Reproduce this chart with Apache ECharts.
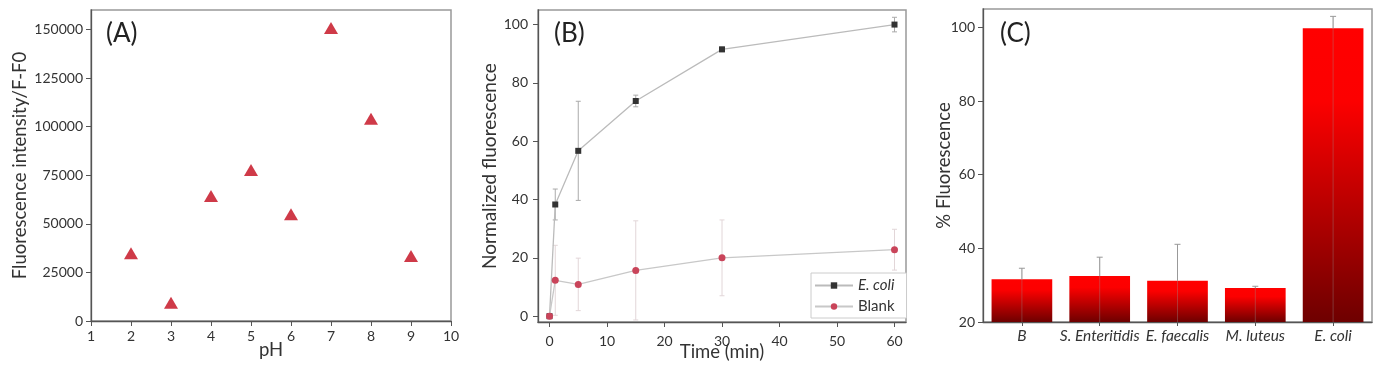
<!DOCTYPE html>
<html>
<head>
<meta charset="utf-8">
<script src="https://cdn.jsdelivr.net/npm/echarts@6/dist/echarts.min.js"></script>
<style>html,body{margin:0;padding:0;background:#fff}#c{width:1383px;height:367px}</style>
</head>
<body>
<div id="c"></div>
<script>
// Panel A
var phValues = [2, 3, 4, 5, 6, 7, 8, 9];
var phIntensity = [34800, 9400, 64300, 77650, 54900, 150800, 104000, 33400];
var phTicks = [1, 2, 3, 4, 5, 6, 7, 8, 9, 10];
var intensityTicks = [0, 25000, 50000, 75000, 100000, 125000, 150000];
// Panel B
var timeMin = [0, 1, 5, 15, 30, 60];
var ecoliMean = [0, 38.3, 56.7, 73.8, 91.5, 100];
var ecoliErr = [0, 5.3, 17, 2, 0.8, 2.5];
var blankMean = [0, 12.3, 10.9, 15.7, 20, 22.8];
var blankErr = [0, 12, 9, 17, 13, 7];
var timeTicks = [0, 10, 20, 30, 40, 50, 60];
var normTicks = [0, 20, 40, 60, 80, 100];
// Panel C
var bacteria = ['B', 'S. Enteritidis', 'E. faecalis', 'M. luteus', 'E. coli'];
var fluorMean = [31.6, 32.5, 31.2, 29.2, 99.8];
var fluorErr = [3.0, 5.1, 9.9, 0.5, 3.2];
var percentTicks = [20, 40, 60, 80, 100];

var FONT = 'Lato';
var TXT = '#333';
function plain(v) { return String(v); }
function errData(xs, m, e) {
  return xs.map(function (x, i) { return [x, m[i] - e[i], m[i] + e[i]]; });
}
function errRender(color, cap) {
  return function (params, api) {
    var x = api.value(0);
    var hi = api.coord([x, api.value(2)]);
    var lo = api.coord([x, api.value(1)]);
    var st = { stroke: color, lineWidth: 1 };
    return {
      type: 'group',
      children: [
        { type: 'line', shape: { x1: hi[0], y1: hi[1], x2: lo[0], y2: lo[1] }, style: st },
        { type: 'line', shape: { x1: hi[0] - cap, y1: hi[1], x2: hi[0] + cap, y2: hi[1] }, style: st },
        { type: 'line', shape: { x1: lo[0] - cap, y1: lo[1], x2: lo[0] + cap, y2: lo[1] }, style: st }
      ]
    };
  };
}
function valAxis(extra) {
  var base = {
    type: 'value',
    axisLine: { show: true, onZero: false, lineStyle: { color: '#555', width: 1.3 } },
    axisTick: { show: true, inside: false, length: 5, lineStyle: { color: '#555' } },
    axisLabel: { color: TXT, fontFamily: FONT, fontSize: 14, formatter: plain },
    splitLine: { show: false },
    nameLocation: 'middle',
    nameMoveOverlap: false,
    nameTextStyle: { color: TXT, fontFamily: FONT, fontSize: 18.5 }
  };
  for (var k in extra) {
    if (typeof extra[k] === 'object' && base[k] && !Array.isArray(extra[k])) {
      for (var j in extra[k]) base[k][j] = extra[k][j];
    } else base[k] = extra[k];
  }
  return base;
}

var gridStyle = { show: true, borderColor: '#999', borderWidth: 1.5, backgroundColor: 'transparent', containLabel: false, outerBoundsMode: 'none' };
var option = {
  backgroundColor: '#fff',
  animation: false,
  grid: [
    Object.assign({ left: 91, top: 10, width: 360, height: 311 }, gridStyle),
    Object.assign({ left: 538, top: 10, width: 368, height: 312 }, gridStyle),
    Object.assign({ left: 983, top: 9, width: 389, height: 313 }, gridStyle)
  ],
  graphic: [
    { type: 'text', left: 106, top: 21, style: { text: '(A)', font: '26px Lato', fill: '#222' } },
    { type: 'text', left: 554, top: 21, style: { text: '(B)', font: '26px Lato', fill: '#222' } },
    { type: 'text', left: 1000, top: 21, style: { text: '(C)', font: '26px Lato', fill: '#222' } }
  ],
  legend: {
    show: true,
    left: 811, top: 273,
    orient: 'vertical',
    data: ['E. coli', 'Blank'],
    itemWidth: 38, itemHeight: 8, itemGap: 6,
    padding: [5, 12, 4, 3],
    borderColor: '#ccc', borderWidth: 1, backgroundColor: '#fff',
    textStyle: { color: TXT, fontFamily: FONT, fontSize: 15, rich: { i: { fontStyle: 'italic', fontFamily: FONT, fontSize: 15, color: TXT } } },
    formatter: function (n) { return n === 'E. coli' ? '{i|E. coli}' : n; }
  },
  xAxis: [
    valAxis({ gridIndex: 0, min: 1, max: 10, name: 'pH', nameGap: 20,
      axisLabel: { customValues: phTicks, margin: 8 }, axisTick: { customValues: phTicks } }),
    valAxis({ gridIndex: 1, min: -2, max: 62, name: 'Time (min)', nameGap: 21,
      axisLabel: { customValues: timeTicks, margin: 12 }, axisTick: { customValues: timeTicks } }),
    {
      type: 'category', gridIndex: 2, data: bacteria,
      axisLine: { show: true, lineStyle: { color: '#555', width: 1.3 } },
      axisTick: { show: true, alignWithLabel: true, length: 4, lineStyle: { color: '#555' } },
      axisLabel: { color: TXT, fontFamily: FONT, fontSize: 15.5, fontStyle: 'italic', margin: 6, interval: 0 }
    }
  ],
  yAxis: [
    valAxis({ gridIndex: 0, min: 0, max: 160000, name: 'Fluorescence intensity/F-F0', nameGap: 61,
      axisLabel: { customValues: intensityTicks, margin: 8 }, axisTick: { customValues: intensityTicks } }),
    valAxis({ gridIndex: 1, min: -2, max: 105, name: 'Normalized fluorescence', nameGap: 39,
      nameTextStyle: { fontSize: 19 },
      axisLabel: { customValues: normTicks, margin: 10 }, axisTick: { customValues: normTicks } }),
    valAxis({ gridIndex: 2, min: 20, max: 105, name: '% Fluorescence', nameGap: 29,
      axisLabel: { customValues: percentTicks, margin: 8 }, axisTick: { customValues: percentTicks } })
  ],
  series: [
    {
      type: 'scatter', xAxisIndex: 0, yAxisIndex: 0,
      data: phValues.map(function (p, i) { return [p, phIntensity[i]]; }),
      symbol: 'triangle', symbolSize: [14, 12],
      itemStyle: { color: '#cf3a48', opacity: 1 }
    },
    {
      type: 'custom', xAxisIndex: 1, yAxisIndex: 1, silent: true,
      data: errData(timeMin, ecoliMean, ecoliErr),
      renderItem: errRender('#aaa', 2.5), z: 1
    },
    {
      type: 'custom', xAxisIndex: 1, yAxisIndex: 1, silent: true,
      data: errData(timeMin, blankMean, blankErr),
      renderItem: errRender('#e2d6d8', 2.5), z: 1
    },
    {
      name: 'E. coli', type: 'line', xAxisIndex: 1, yAxisIndex: 1,
      data: timeMin.map(function (t, i) { return [t, ecoliMean[i]]; }),
      symbol: 'rect', symbolSize: 6, showSymbol: true,
      lineStyle: { color: '#bbb', width: 1.3 },
      itemStyle: { color: '#333' }, z: 3
    },
    {
      name: 'Blank', type: 'line', xAxisIndex: 1, yAxisIndex: 1,
      data: timeMin.map(function (t, i) { return [t, blankMean[i]]; }),
      symbol: 'circle', symbolSize: 7, showSymbol: true,
      lineStyle: { color: '#c8c8c8', width: 1.3 },
      itemStyle: { color: '#c9445a' }, z: 4
    },
    {
      type: 'bar', xAxisIndex: 2, yAxisIndex: 2, barWidth: '78%',
      data: fluorMean,
      itemStyle: {
        color: new echarts.graphic.LinearGradient(0, 0, 0, 1, [
          { offset: 0, color: '#ff0000' },
          { offset: 0.25, color: '#fc0000' },
          { offset: 1, color: '#6e0000' }
        ])
      }
    },
    {
      type: 'custom', xAxisIndex: 2, yAxisIndex: 2, silent: true,
      data: bacteria.map(function (b, i) { return [i, fluorMean[i], fluorMean[i] + fluorErr[i]]; }),
      renderItem: function (params, api) {
        var x = api.value(0);
        var hi = api.coord([x, api.value(2)]);
        var lo = api.coord([x, 20]);
        var st = { stroke: '#999', lineWidth: 1 };
        return { type: 'group', children: [
          { type: 'line', shape: { x1: hi[0], y1: hi[1], x2: lo[0], y2: lo[1] }, style: { stroke: 'rgba(150,150,150,0.35)', lineWidth: 1 } },
          { type: 'line', shape: { x1: hi[0], y1: hi[1], x2: hi[0], y2: api.coord([x, api.value(1)])[1] }, style: st },
          { type: 'line', shape: { x1: hi[0] - 3, y1: hi[1], x2: hi[0] + 3, y2: hi[1] }, style: st }
        ] };
      },
      z: 5
    }
  ]
};
var chart = echarts.init(document.getElementById('c'), null, { renderer: 'canvas' });
chart.setOption(option);
</script>
</body>
</html>
